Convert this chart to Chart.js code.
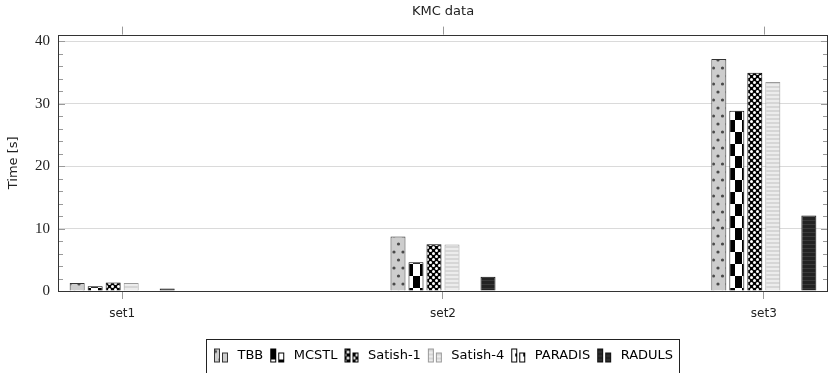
<!DOCTYPE html>
<html>
<head>
<meta charset="utf-8">
<script src="https://cdn.jsdelivr.net/npm/chart.js@4.4.1/dist/chart.umd.min.js"></script>
<style>
  html, body { margin: 0; padding: 0; background: #fff; }
  #wrap { width: 830px; height: 373px; }
</style>
</head>
<body>
<div id="wrap"><canvas id="kmcChart" width="830" height="373"></canvas></div>
<script>
// values
const categories = ['set1', 'set2', 'set3'];
const seriesNames = ['TBB', 'MCSTL', 'Satish-1', 'Satish-4', 'PARADIS', 'RADULS'];
const tbb = [1.3, 8.75, 37.2];
const mcstl = [0.75, 4.6, 28.9];
const satish1 = [1.35, 7.5, 35.0];
const satish4 = [1.3, 7.45, 33.5];
const paradis = [null, null, null];
const raduls = [0.4, 2.3, 12.1];
const yTicks = [0, 10, 20, 30, 40];

const canvas = document.getElementById('kmcChart');
const mainCtx = canvas.getContext('2d');

function makeTile(w, h, draw) {
    const c = document.createElement('canvas');
    c.width = w;
    c.height = h;
    draw(c.getContext('2d'), w, h);
    return c;
}

// pgfplots-like fill patterns
const tiles = [
    makeTile(9, 16, (g, w, h) => {           // TBB: grey with dots
        g.fillStyle = '#cdcdcd'; g.fillRect(0, 0, w, h);
        g.fillStyle = '#4a4a4a';
        g.beginPath(); g.arc(2.5, 4, 1.6, 0, Math.PI * 2); g.fill();
        g.beginPath(); g.arc(7, 12, 1.6, 0, Math.PI * 2); g.fill();
    }),
    makeTile(14, 24, (g, w, h) => {          // MCSTL: checkerboard
        g.fillStyle = '#fff'; g.fillRect(0, 0, w, h);
        g.fillStyle = '#000';
        g.fillRect(0, 0, 7, 12); g.fillRect(7, 12, 7, 12);
    }),
    makeTile(6, 6, (g, w, h) => {            // Satish-1: crosshatch dots
        g.fillStyle = '#000'; g.fillRect(0, 0, w, h);
        g.fillStyle = '#fff';
        g.beginPath(); g.arc(1.5, 1.5, 1.5, 0, Math.PI * 2); g.fill();
        g.beginPath(); g.arc(4.5, 4.5, 1.5, 0, Math.PI * 2); g.fill();
    }),
    makeTile(4, 4, (g, w, h) => {            // Satish-4: light stripes
        g.fillStyle = '#d6d6d6'; g.fillRect(0, 0, w, h);
        g.fillStyle = '#ececec'; g.fillRect(0, 0, w, 2);
    }),
    makeTile(8, 10, (g, w, h) => {           // PARADIS: white with dashes
        g.fillStyle = '#fff'; g.fillRect(0, 0, w, h);
        g.fillStyle = '#000';
        g.fillRect(0, 1, 2, 4); g.fillRect(5, 6, 2, 3);
    }),
    makeTile(4, 4, (g, w, h) => {            // RADULS: dark stripes
        g.fillStyle = '#232323'; g.fillRect(0, 0, w, h);
        g.fillStyle = '#3a3a3a'; g.fillRect(0, 0, w, 1);
    })
];
const borders = ['#333', '#000', '#000', '#9a9a9a', '#000', '#111'];
const seriesValues = [tbb, mcstl, satish1, satish4, paradis, raduls];

// legend icon: two small bars like pgfplots ybar legend
function legendIcon(i) {
    return makeTile(18, 16, (g) => {
        g.fillStyle = g.createPattern(tiles[i], 'repeat');
        g.strokeStyle = borders[i];
        g.lineWidth = 1;
        g.fillRect(1, 1, 6, 14); g.strokeRect(1.5, 1.5, 5, 13);
        g.fillRect(9, 5, 6, 10); g.strokeRect(9.5, 5.5, 5, 9);
    });
}
const icons = seriesNames.map((n, i) => legendIcon(i));

const frame = {
    id: 'frame',
    afterDraw(chart) {
        const { ctx, chartArea: a, scales: { x, y } } = chart;
        ctx.save();
        ctx.lineWidth = 1;
        ctx.strokeStyle = '#9a9a9a';
        // minor / major ticks on both y sides
        for (let v = 2; v < 41; v += 2) {
            const py = Math.round(y.getPixelForValue(v)) + 0.5;
            const len = v % 10 === 0 ? 7 : 5;
            ctx.beginPath();
            ctx.moveTo(a.left, py); ctx.lineTo(a.left + len, py);
            ctx.moveTo(a.right, py); ctx.lineTo(a.right - len, py);
            ctx.stroke();
        }
        // x ticks above the top edge
        categories.forEach((c, i) => {
            const px = Math.round(x.getPixelForValue(i)) + 0.5;
            ctx.beginPath();
            ctx.moveTo(px, a.top - 8); ctx.lineTo(px, a.top);
            ctx.stroke();
        });
        // axis box
        ctx.strokeStyle = '#333';
        ctx.strokeRect(Math.round(a.left) + 0.5, Math.round(a.top) + 0.5,
            Math.round(a.right - a.left) - 1, Math.round(a.bottom - a.top));
        // legend frame
        const hb = chart.legend.legendHitBoxes;
        if (hb && hb.length) {
            const first = hb[0], last = hb[hb.length - 1];
            const cy = first.top + first.height / 2;
            const l = Math.round(first.left - 7) + 0.5;
            const r = Math.round(last.left + last.width + 6) + 0.5;
            ctx.strokeStyle = '#222';
            ctx.strokeRect(l, Math.round(cy - 17) + 0.5, r - l, 34);
        }
        ctx.restore();
    }
};

Chart.defaults.font.family = "'DejaVu Sans', sans-serif";
Chart.defaults.color = '#222';

new Chart(mainCtx, {
    type: 'bar',
    data: {
        datasets: seriesNames.map((name, i) => ({
            label: name,
            data: seriesValues[i].map((v, k) => ({ x: k, y: v })),
            backgroundColor: mainCtx.createPattern(tiles[i], 'repeat'),
            borderColor: borders[i],
            borderWidth: 1,
            categoryPercentage: 0.3367,
            barPercentage: 0.833
        }))
    },
    options: {
        responsive: false,
        animation: false,
        layout: { padding: { left: 0, right: 2, top: 0, bottom: 1 } },
        plugins: {
            title: {
                display: true,
                text: 'KMC data',
                fullSize: false,
                font: { size: 13, weight: 'normal' },
                padding: { top: 4, bottom: 15 }
            },
            legend: {
                position: 'bottom',
                fullSize: false,
                labels: {
                    usePointStyle: true,
                    pointStyleWidth: 18,
                    padding: 6,
                    font: { size: 13 },
                    generateLabels: (chart) => seriesNames.map((n, i) => ({
                        text: n,
                        datasetIndex: i,
                        pointStyle: icons[i],
                        fillStyle: '#fff',
                        strokeStyle: borders[i],
                        lineWidth: 0,
                        hidden: false
                    }))
                }
            },
            tooltip: { enabled: false }
        },
        scales: {
            x: {
                type: 'linear',
                min: -0.2,
                max: 2.2,
                offset: false,
                afterBuildTicks: (scale) => {
                    scale.ticks = categories.map((c, i) => ({ value: i }));
                },
                afterFit: (scale) => { scale.height = 52; },
                ticks: {
                    autoSkip: false,
                    padding: 8,
                    font: { size: 12 },
                    callback: (v) => categories[v] ?? ''
                },
                grid: { offset: false, drawOnChartArea: false, tickLength: 8, color: '#9a9a9a' },
                border: { display: false }
            },
            y: {
                min: 0,
                max: 41.1,
                afterBuildTicks: (scale) => {
                    scale.ticks = yTicks.map(v => ({ value: v }));
                },
                afterFit: (scale) => { scale.width = 58; },
                ticks: {
                    padding: 8,
                    font: { family: "'Liberation Serif', serif", size: 15 }
                },
                grid: {
                    drawTicks: false,
                    color: (c) => c.tick && c.tick.value === 0 ? 'rgba(0,0,0,0)' : '#dadada'
                },
                border: { display: false },
                title: {
                    display: true,
                    text: 'Time [s]',
                    font: { size: 13 },
                    padding: { top: 6, bottom: 0 }
                }
            }
        }
    },
    plugins: [frame]
});
</script>
</body>
</html>
